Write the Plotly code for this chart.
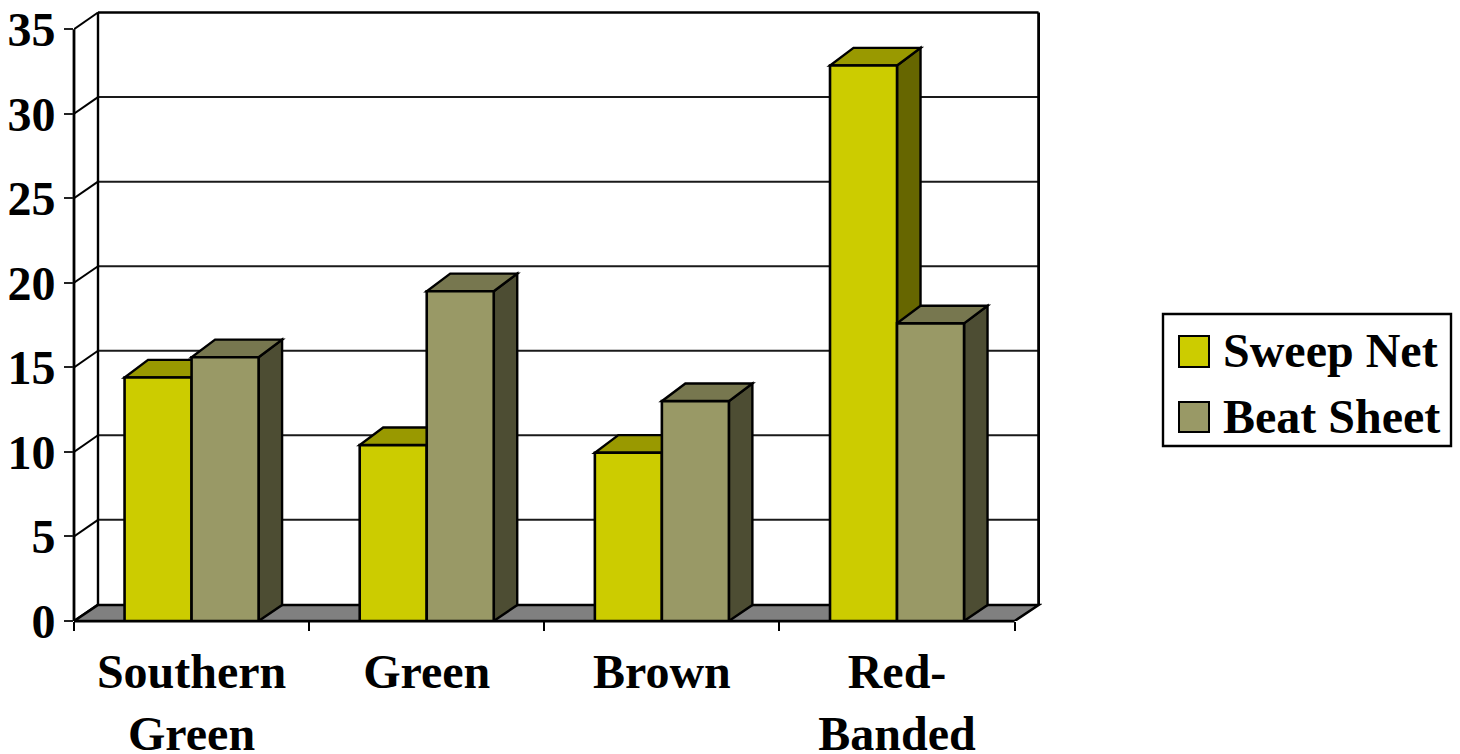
import plotly.graph_objects as go

categories = ["Southern<br>Green", "Green", "Brown", "Red-<br>Banded"]
sweep_net = [14.4, 10.4, 9.95, 32.85]
beat_sheet = [15.6, 19.5, 13.0, 17.6]
y_ticks = [0, 5, 10, 15, 20, 25, 30, 35]

SWEEP = dict(front="#CCCC00", top="#999900", side="#666600")
BEAT = dict(front="#999966", top="#77774F", side="#4D4D33")
FLOOR = "#808080"
FONT = "Liberation Serif"

W, H = 1460, 754
L, R, T, B = 74, 418, 10, 133
PW, PH = W - L - R, H - T - B
PX_X = 235.15  # pixels per category
PX_Y = 16.91   # pixels per value unit
DX = 24 / PX_X
DY = 16.6 / PX_Y
FLOOR_DY = 16 / PX_Y
BAR_DX = 23.5 / PX_X
BAR_BASE_DY = 16 / PX_Y
BAR_TOP_DY = 17.6 / PX_Y
GAP = 0.43
BW = (1 - GAP) / 2
X0 = -0.5
X1 = X0 + len(categories)
YMAX = y_ticks[-1]

shapes = []
def poly(pts, fill=None, width=2.4, color="black"):
    d = "M" + "L".join(f"{x:.4f},{y:.4f}" for x, y in pts) + "Z"
    shapes.append(dict(type="path", path=d, xref="x", yref="y", layer="below",
                       fillcolor=fill or "rgba(0,0,0,0)", line=dict(color=color, width=width)))
def seg(x0, y0, x1, y1, width=2, color="black", **kw):
    s = dict(type="line", x0=x0, y0=y0, x1=x1, y1=y1, xref="x", yref="y", layer="below",
             line=dict(color=color, width=width))
    s.update(kw)
    shapes.append(s)

# back wall grid + side wall diagonals
for v in y_ticks[1:]:
    seg(X0 + DX, v + DY, X1 + DX, v + DY, width=2.6 if v == YMAX else 2, color="black" if v == YMAX else "#1a1a1a")
for v in y_ticks:
    seg(X0, v, X0 + DX, v + DY, width=2)
# floor
poly([(X0, 0), (X1, 0), (X1 + DX, FLOOR_DY), (X0 + DX, FLOOR_DY)], fill=FLOOR, width=2.6)
# walls
seg(X0 + DX, FLOOR_DY, X0 + DX, YMAX + DY, width=2.4)
seg(X1 + DX, FLOOR_DY, X1 + DX, YMAX + DY, width=2.8)
seg(0, 0, 0, YMAX, width=2.8, xref="x domain", yref="y")
seg(X0, 0, X1, 0, width=2.8, xref="x", yref="paper")

# 3-D tops and sides, from the values
for i in range(len(categories)):
    for vals, col, xl in ((sweep_net, SWEEP, i - BW), (beat_sheet, BEAT, i)):
        v, xr = vals[i], xl + BW
        poly([(xr, 0), (xr + BAR_DX, BAR_BASE_DY), (xr + BAR_DX, v + BAR_TOP_DY), (xr, v)], fill=col["side"])
        poly([(xl, v), (xr, v), (xr + BAR_DX, v + BAR_TOP_DY), (xl + BAR_DX, v + BAR_TOP_DY)], fill=col["top"])

# legend frame and swatches, sized as in the reference
def px(x): return (x - L) / PW
def py(y): return (H - B - y) / PH
shapes.append(dict(type="rect", xref="paper", yref="paper", x0=px(1163), x1=px(1451), y0=py(314), y1=py(446),
                   fillcolor="white", line=dict(color="black", width=2.4), layer="above"))
for col, y0, y1 in ((SWEEP, 336, 367), (BEAT, 402, 432)):
    shapes.append(dict(type="rect", xref="paper", yref="paper", x0=px(1179), x1=px(1209), y0=py(y0), y1=py(y1),
                       fillcolor=col["front"], line=dict(color="black", width=2), layer="above"))

line = dict(color="black", width=2.6)
fig = go.Figure()
fig.add_bar(x=categories, y=sweep_net, name="Sweep Net", showlegend=False, cliponaxis=False,
            marker=dict(color=SWEEP["front"], line=line))
fig.add_bar(x=categories, y=beat_sheet, name="Beat Sheet", showlegend=False, cliponaxis=False,
            marker=dict(color=BEAT["front"], line=line))
for name, col in (("Sweep Net", SWEEP), ("Beat Sheet", BEAT)):
    fig.add_scatter(x=[None], y=[None], mode="markers", name=name,
                    marker=dict(symbol="square", size=14, color=col["front"]))

font = dict(family=FONT, size=48, color="black", weight="bold")
fig.update_layout(
    width=W, height=H, autosize=False,
    margin=dict(l=L, r=R, t=T, b=B, pad=0),
    paper_bgcolor="white", plot_bgcolor="white",
    barmode="group", bargap=GAP, bargroupgap=0,
    font=font, shapes=shapes,
    legend=dict(x=px(1162), y=py(311), xanchor="left", yanchor="top",
                bgcolor="rgba(0,0,0,0)", borderwidth=0,
                itemwidth=51, font=font, itemclick=False),
    xaxis=dict(type="category", categoryorder="array", categoryarray=categories,
               range=[X0, X0 + PW / PX_X], showgrid=False, showline=False, zeroline=False,
               tickson="boundaries", ticks="outside", ticklen=9, tickwidth=2, tickcolor="black",
               tickangle=0, tickfont=font, ticklabelstandoff=18, automargin=False),
    yaxis=dict(range=[0, PH / PX_Y], tickvals=y_ticks, showgrid=False, showline=False, zeroline=False,
               ticks="outside", ticklen=9, tickwidth=2, tickcolor="#222222",
               tickfont=font, ticklabelstandoff=-1, automargin=False),
)
fig.write_html("out.html", config=dict(displayModeBar=False),
               post_script="document.body.style.margin='0';document.body.style.overflow='hidden';")
